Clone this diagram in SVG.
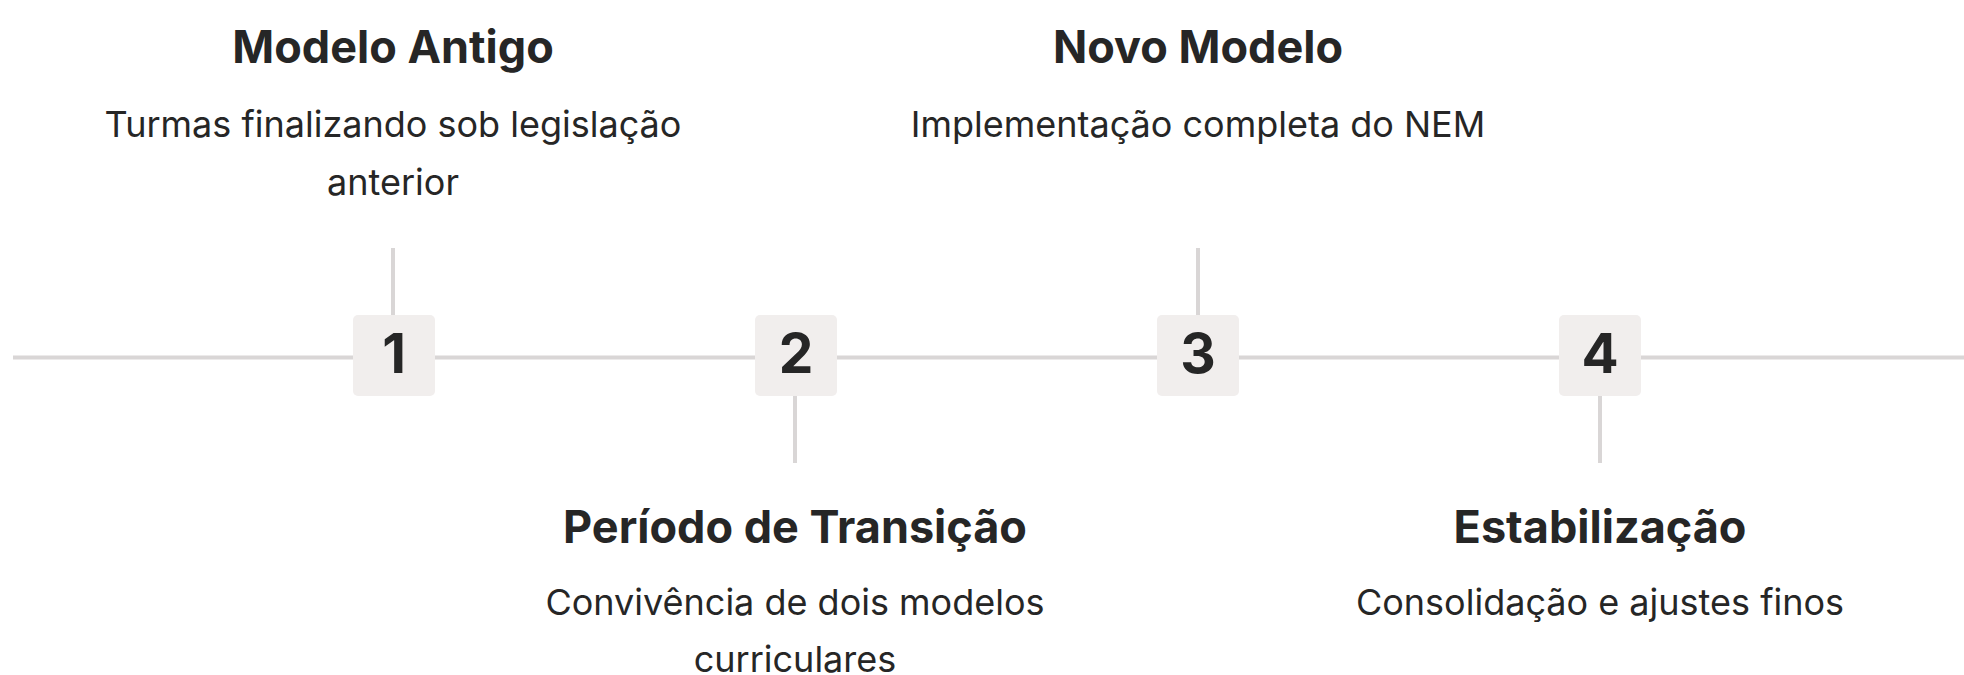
<svg xmlns="http://www.w3.org/2000/svg" width="1964" height="675" viewBox="0 0 1964 675">
<style>
.line{stroke:#d9d6d6;stroke-width:4;fill:none}
.box{fill:#f1eeed}
.num{font-family:Inter,"Liberation Sans",sans-serif;font-weight:700;font-size:55px;fill:#262626;text-anchor:middle}
.title{font-family:Inter,"Liberation Sans",sans-serif;font-weight:700;font-size:45px;fill:#262626;text-anchor:middle}
.desc{font-family:Inter,"Liberation Sans",sans-serif;font-weight:400;font-size:36px;fill:#262626;text-anchor:middle}
</style>
<rect width="1964" height="675" fill="#ffffff"/>
<g id="connectors">
<line class="line" x1="13" y1="357.5" x2="1964" y2="357.5"/>
<line class="line" x1="393" y1="248" x2="393" y2="315"/>
<line class="line" x1="795" y1="396" x2="795" y2="463"/>
<line class="line" x1="1198" y1="248" x2="1198" y2="315"/>
<line class="line" x1="1600" y1="396" x2="1600" y2="463"/>
</g>
<g id="node1">
<rect class="box" x="353" y="315" width="82" height="81" rx="5"/>
<text class="num" x="394" y="373">1</text>
<text class="title" x="393" y="63">Modelo Antigo</text>
<text class="desc" x="393" y="137">Turmas finalizando sob legislação</text>
<text class="desc" x="393" y="195">anterior</text>
</g>
<g id="node2">
<rect class="box" x="755" y="315" width="82" height="81" rx="5"/>
<text class="num" x="796" y="373">2</text>
<text class="title" x="795" y="543">Período de Transição</text>
<text class="desc" x="795" y="615">Convivência de dois modelos</text>
<text class="desc" x="795" y="672">curriculares</text>
</g>
<g id="node3">
<rect class="box" x="1157" y="315" width="82" height="81" rx="5"/>
<text class="num" x="1198" y="373">3</text>
<text class="title" x="1198" y="63">Novo Modelo</text>
<text class="desc" x="1198" y="137">Implementação completa do NEM</text>
</g>
<g id="node4">
<rect class="box" x="1559" y="315" width="82" height="81" rx="5"/>
<text class="num" x="1600" y="373">4</text>
<text class="title" x="1600" y="543">Estabilização</text>
<text class="desc" x="1600" y="615">Consolidação e ajustes finos</text>
</g>
</svg>
